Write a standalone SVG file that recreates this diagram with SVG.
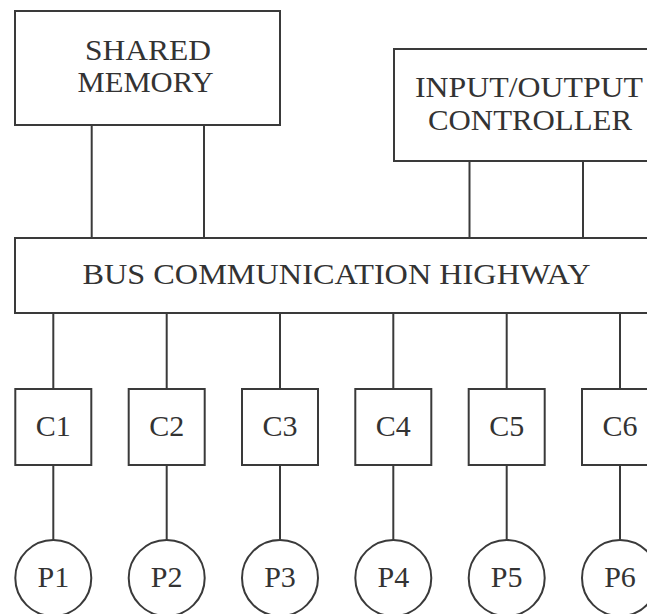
<svg xmlns="http://www.w3.org/2000/svg" width="647" height="614" viewBox="0 0 647 614">
<style>
.box{fill:#fff;stroke:#3a3a3a;stroke-width:2}
.ln{stroke:#3a3a3a;stroke-width:2;fill:none}
.t{font-family:"Liberation Serif","Times New Roman",serif;font-size:30px;fill:#333;text-anchor:middle}
</style>
<rect width="647" height="614" fill="#fff"/>
<g id="connectors">
<line class="ln" x1="91.7" y1="125" x2="91.7" y2="238"/>
<line class="ln" x1="204" y1="125" x2="204" y2="238"/>
<line class="ln" x1="469.5" y1="161" x2="469.5" y2="238"/>
<line class="ln" x1="583" y1="161" x2="583" y2="238"/>
<line class="ln" x1="53.3" y1="313" x2="53.3" y2="389"/>
<line class="ln" x1="166.7" y1="313" x2="166.7" y2="389"/>
<line class="ln" x1="280" y1="313" x2="280" y2="389"/>
<line class="ln" x1="393.3" y1="313" x2="393.3" y2="389"/>
<line class="ln" x1="506.7" y1="313" x2="506.7" y2="389"/>
<line class="ln" x1="620" y1="313" x2="620" y2="389"/>
<line class="ln" x1="53.3" y1="465" x2="53.3" y2="540"/>
<line class="ln" x1="166.7" y1="465" x2="166.7" y2="540"/>
<line class="ln" x1="280" y1="465" x2="280" y2="540"/>
<line class="ln" x1="393.3" y1="465" x2="393.3" y2="540"/>
<line class="ln" x1="506.7" y1="465" x2="506.7" y2="540"/>
<line class="ln" x1="620" y1="465" x2="620" y2="540"/>
</g>
<g id="shared-memory">
<rect class="box" x="15" y="11" width="265" height="114"/>
<text class="t" x="148" y="59.5" textLength="126" lengthAdjust="spacingAndGlyphs">SHARED</text>
<text class="t" x="145.5" y="91.7" textLength="136" lengthAdjust="spacingAndGlyphs">MEMORY</text>
</g>
<g id="io-controller">
<rect class="box" x="394" y="49" width="266" height="112"/>
<text class="t" x="529" y="96.7" textLength="228" lengthAdjust="spacingAndGlyphs">INPUT/OUTPUT</text>
<text class="t" x="530" y="130" textLength="204" lengthAdjust="spacingAndGlyphs">CONTROLLER</text>
</g>
<g id="bus">
<rect class="box" x="15" y="238" width="645" height="75"/>
<text class="t" x="336.5" y="283.5" textLength="508" lengthAdjust="spacingAndGlyphs">BUS COMMUNICATION HIGHWAY</text>
</g>
<g id="c1"><rect class="box" x="15.3" y="389" width="76" height="76"/><text class="t" x="53.3" y="435.5">C1</text></g>
<g id="c2"><rect class="box" x="128.7" y="389" width="76" height="76"/><text class="t" x="166.7" y="435.5">C2</text></g>
<g id="c3"><rect class="box" x="242" y="389" width="76" height="76"/><text class="t" x="280" y="435.5">C3</text></g>
<g id="c4"><rect class="box" x="355.3" y="389" width="76" height="76"/><text class="t" x="393.3" y="435.5">C4</text></g>
<g id="c5"><rect class="box" x="468.7" y="389" width="76" height="76"/><text class="t" x="506.7" y="435.5">C5</text></g>
<g id="c6"><rect class="box" x="582" y="389" width="76" height="76"/><text class="t" x="620" y="435.5">C6</text></g>
<g id="p1"><circle class="box" cx="53.3" cy="578" r="38"/><text class="t" x="53.3" y="587">P1</text></g>
<g id="p2"><circle class="box" cx="166.7" cy="578" r="38"/><text class="t" x="166.7" y="587">P2</text></g>
<g id="p3"><circle class="box" cx="280" cy="578" r="38"/><text class="t" x="280" y="587">P3</text></g>
<g id="p4"><circle class="box" cx="393.3" cy="578" r="38"/><text class="t" x="393.3" y="587">P4</text></g>
<g id="p5"><circle class="box" cx="506.7" cy="578" r="38"/><text class="t" x="506.7" y="587">P5</text></g>
<g id="p6"><circle class="box" cx="620" cy="578" r="38"/><text class="t" x="620" y="587">P6</text></g>
</svg>
